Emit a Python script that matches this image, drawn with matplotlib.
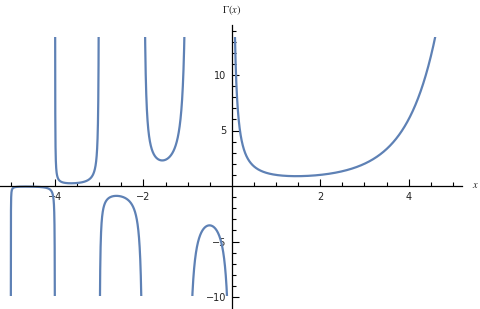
import math
import numpy as np
import matplotlib
matplotlib.use("Agg")
import matplotlib.pyplot as plt
from matplotlib.patches import Rectangle

# Branches of the Gamma function between its poles
branch_bounds = [(-5, -4), (-4, -3), (-3, -2), (-2, -1), (-1, 0), (0, 4.8)]
x_major_ticks = [-4, -2, 2, 4]
x_minor_ticks = [-5, -4.5, -3.5, -3, -2.5, -1.5, -1, -0.5, 0.5, 1, 1.5, 2.5, 3, 3.5, 4.5, 5]
y_major_ticks = [-10, -5, 5, 10]
y_minor_ticks = [-9, -8, -7, -6, -4, -3, -2, -1, 1, 2, 3, 4, 6, 7, 8, 9, 11, 12, 13, 14]
y_clip = (-9.9, 13.4)

color = "#5E81B5"

fig = plt.figure(figsize=(4.8, 3.09), dpi=100)
ax = fig.add_axes([0, 0, 1, 1])

# pixel mapping: x=0 at px 231.8, 44.2 px/unit ; y=0 at px 186, 11.1 px/unit
x0, sx = 231.8, 44.2
y0, sy = 186.0, 11.1
ax.set_xlim(-x0 / sx, (480 - x0) / sx)
ax.set_ylim((y0 - 309) / sy, y0 / sy)

gamma_v = np.vectorize(math.gamma)
clip = Rectangle((-10, y_clip[0]), 20, y_clip[1] - y_clip[0], transform=ax.transData)
for a, b in branch_bounds:
    t = np.linspace(0, 1, 4000)
    # denser near the poles
    s = 0.5 - 0.5 * np.cos(np.pi * t)
    xs = a + 1e-5 + (b - a - 2e-5) * s
    ys = gamma_v(xs)
    ln, = ax.plot(xs, ys, color=color, lw=1.6, solid_capstyle="butt")
    ln.set_clip_path(clip)

for side in ("top", "right"):
    ax.spines[side].set_visible(False)
ax.spines["left"].set_position(("data", 0))
ax.spines["bottom"].set_position(("data", 0))
ax.spines["bottom"].set_bounds(-x0 / sx, (462 - x0) / sx)
ax.spines["left"].set_bounds((y0 - 309) / sy, (y0 - 25) / sy)
for sp in ("left", "bottom"):
    ax.spines[sp].set_linewidth(0.9)
    ax.spines[sp].set_color("black")

ax.set_xticks(x_major_ticks)
ax.set_xticks(x_minor_ticks, minor=True)
ax.set_yticks(y_major_ticks)
ax.set_yticks(y_minor_ticks, minor=True)
ax.set_xticklabels(["\u22124" if v == -4 else ("\u22122" if v == -2 else str(v)) for v in x_major_ticks])
ax.set_yticklabels(["\u221210" if v == -10 else ("\u22125" if v == -5 else str(v)) for v in y_major_ticks])
ax.tick_params(axis="both", which="both", direction="in", color="black", width=0.8)
ax.tick_params(axis="both", which="major", length=5, labelsize=7, pad=4)
ax.tick_params(axis="both", which="minor", length=3)
for lab in ax.get_xticklabels() + ax.get_yticklabels():
    lab.set_color("#222222")

plt.rcParams["mathtext.fontset"] = "stix"
ax.text(0, (y0 - 10) / sy, r"$\Gamma(x)$", ha="center", va="center", fontsize=7.5, color="#222222")
ax.text((475 - x0) / sx, 0.1, r"$x$", ha="center", va="center", fontsize=7.5, color="#222222")

fig.savefig("out.png", dpi=100)
